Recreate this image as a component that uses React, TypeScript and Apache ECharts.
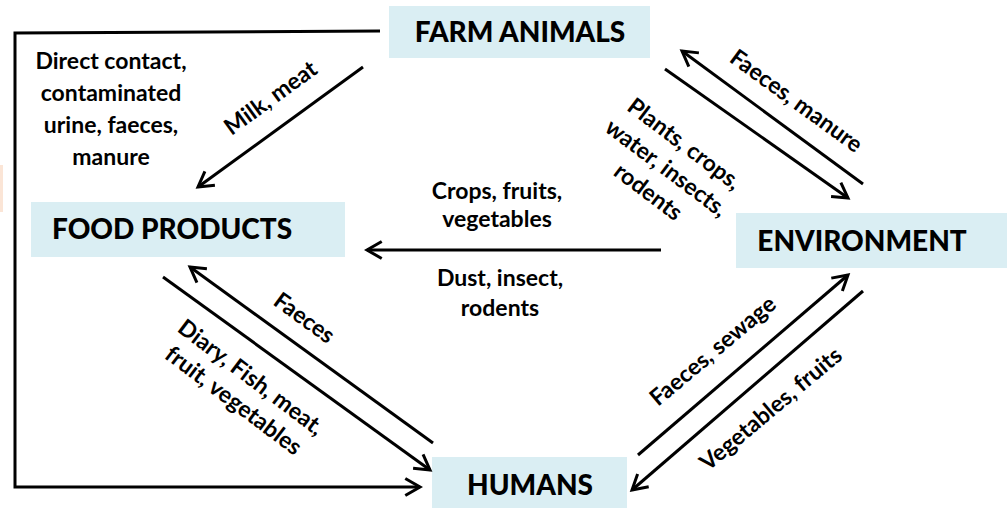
import React, { useEffect, useRef } from "react";
import * as echarts from "echarts";

// Nodes (boxes)
const nodeNames = ["FARM ANIMALS", "FOOD PRODUCTS", "ENVIRONMENT", "HUMANS"];
// box rects in diagram units: x, y, w, h
const nodeBoxes = [
  [389, 6, 261, 52],
  [31, 202, 314, 55],
  [736, 213, 271, 55],
  [432, 457, 195, 51],
];
// label anchor: x, y, align
const nodeLabelPos: [number, number, string][] = [
  [520, 31, "center"],
  [52, 228, "left"],
  [862, 240, "center"],
  [530, 484, "center"],
];

// Arrows: x1, y1, x2, y2 (head at x2,y2)
const arrowNames = [
  "Farm→Food", "Env→Farm", "Farm→Env", "Env→Food",
  "Humans→Food", "Food→Humans", "Humans→Env", "Env→Humans",
];
const arrowSegments = [
  [363, 67, 198, 187],
  [863, 184, 682, 51],
  [665, 69, 848, 198],
  [661, 250, 367, 250],
  [433, 443, 190, 267],
  [163, 277, 430, 470],
  [638, 455, 848, 275],
  [863, 291, 632, 490],
];
// Farm animals → Humans (elbow connector)
const elbowPoints = [
  [380, 31],
  [15, 33],
  [15, 487],
  [420, 487],
];

// Edge labels
const edgeLabelTexts = [
  "Direct contact,\ncontaminated\nurine, faeces,\nmanure",
  "Milk, meat",
  "Faeces, manure",
  "Plants, crops,\nwater, insects,\nrodents",
  "Crops, fruits,\nvegetables",
  "Dust, insect,\nrodents",
  "Faeces",
  "Diary, Fish, meat,\nfruit, vegetables",
  "Faeces, sewage",
  "Vegetables, fruits",
];
// x, y, angle (deg, counter-clockwise), line height
const edgeLabelLayout = [
  [111, 108, 0, 32],
  [270, 97, 36, 26],
  [797, 100, -36, 26],
  [667, 167, -37, 30],
  [497, 204, 0, 28],
  [500, 292, 0, 30],
  [305, 317, -36, 26],
  [243, 388, -37, 29],
  [712, 350, 40, 26],
  [770, 408, 40, 26],
];

const BOX_COLOR = "#DAEEF3";
const INK = "#000000";
const LABEL_FONT = "Lato";
const NODE_FONT = "Lato";

export default function App() {
  const ref = useRef<HTMLDivElement>(null);
  useEffect(() => {
    if (!ref.current) return;
    const chart = echarts.init(ref.current, undefined, { renderer: "svg" });

    const arrowHead = (api: any, x1: number, y1: number, x2: number, y2: number) => {
      const p1 = api.coord([x1, y1]);
      const p2 = api.coord([x2, y2]);
      const ang = Math.atan2(p1[1] - p2[1], p1[0] - p2[0]);
      const L = 17;
      const spread = (30 * Math.PI) / 180;
      const a = [p2[0] + L * Math.cos(ang + spread), p2[1] + L * Math.sin(ang + spread)];
      const b = [p2[0] + L * Math.cos(ang - spread), p2[1] + L * Math.sin(ang - spread)];
      return {
        type: "polyline",
        shape: { points: [a, p2, b] },
        style: { stroke: INK, lineWidth: 3, fill: null, lineJoin: "miter" },
      };
    };

    const option: any = {
      animation: false,
      backgroundColor: "#ffffff",
      grid: { left: 0, right: 0, top: 0, bottom: 0 },
      xAxis: { type: "value", min: 0, max: 1007, show: false },
      yAxis: { type: "value", min: 0, max: 508, inverse: true, show: false },
      series: [
        {
          name: "side-mark",
          type: "custom",
          clip: false,
          data: [[0, 165, 3, 47]],
          renderItem: (params: any, api: any) => {
            const p = api.coord([api.value(0), api.value(1)]);
            const q = api.coord([api.value(0) + api.value(2), api.value(1) + api.value(3)]);
            return {
              type: "rect",
              shape: { x: p[0], y: p[1], width: q[0] - p[0], height: q[1] - p[1] },
              style: { fill: "#FBE5D6" },
            };
          },
        },
        {
          name: "nodes",
          type: "custom",
          clip: false,
          data: nodeBoxes.map((b, i) => [...b, i]),
          renderItem: (params: any, api: any) => {
            const i = params.dataIndex;
            const p = api.coord([api.value(0), api.value(1)]);
            const q = api.coord([api.value(0) + api.value(2), api.value(1) + api.value(3)]);
            const lp = api.coord([nodeLabelPos[i][0], nodeLabelPos[i][1]]);
            return {
              type: "group",
              children: [
                {
                  type: "rect",
                  shape: { x: p[0], y: p[1], width: q[0] - p[0], height: q[1] - p[1] },
                  style: { fill: BOX_COLOR },
                },
                {
                  type: "text",
                  x: lp[0],
                  y: lp[1],
                  style: {
                    text: nodeNames[i],
                    fill: INK,
                    fontFamily: NODE_FONT,
                    fontWeight: 900,
                    fontSize: 28,
                    align: nodeLabelPos[i][2],
                    verticalAlign: "middle",
                  },
                },
              ],
            };
          },
        },
        {
          name: "arrows",
          type: "custom",
          clip: false,
          data: arrowSegments.map((s, i) => ({ name: arrowNames[i], value: s })),
          renderItem: (params: any, api: any) => {
            const x1 = api.value(0), y1 = api.value(1), x2 = api.value(2), y2 = api.value(3);
            const p1 = api.coord([x1, y1]);
            const p2 = api.coord([x2, y2]);
            return {
              type: "group",
              children: [
                {
                  type: "line",
                  shape: { x1: p1[0], y1: p1[1], x2: p2[0], y2: p2[1] },
                  style: { stroke: INK, lineWidth: 3 },
                },
                arrowHead(api, x1, y1, x2, y2),
              ],
            };
          },
        },
        {
          name: "elbow",
          type: "custom",
          clip: false,
          data: [0],
          renderItem: (params: any, api: any) => {
            const pts = elbowPoints.map((p) => api.coord(p));
            const n = elbowPoints.length;
            return {
              type: "group",
              children: [
                {
                  type: "polyline",
                  shape: { points: pts },
                  style: { stroke: INK, lineWidth: 3, fill: null },
                },
                arrowHead(api, elbowPoints[n - 2][0], elbowPoints[n - 2][1], elbowPoints[n - 1][0], elbowPoints[n - 1][1]),
              ],
            };
          },
        },
        {
          name: "edge-labels",
          type: "custom",
          clip: false,
          data: edgeLabelLayout.map((l) => [l[0], l[1]]),
          renderItem: (params: any, api: any) => {
            const i = params.dataIndex;
            const p = api.coord([api.value(0), api.value(1)]);
            return {
              type: "text",
              x: p[0],
              y: p[1],
              rotation: (edgeLabelLayout[i][2] * Math.PI) / 180,
              style: {
                text: edgeLabelTexts[i],
                fill: INK,
                fontFamily: LABEL_FONT,
                fontWeight: "bold",
                fontSize: 23,
                lineHeight: edgeLabelLayout[i][3],
                align: "center",
                verticalAlign: "middle",
              },
            };
          },
        },
      ],
    };
    chart.setOption(option);
    return () => chart.dispose();
  }, []);
  return (
    <div
      ref={ref}
      style={{ position: "fixed", left: 0, top: 0, width: 1007, height: 508, background: "#fff" }}
    />
  );
}
